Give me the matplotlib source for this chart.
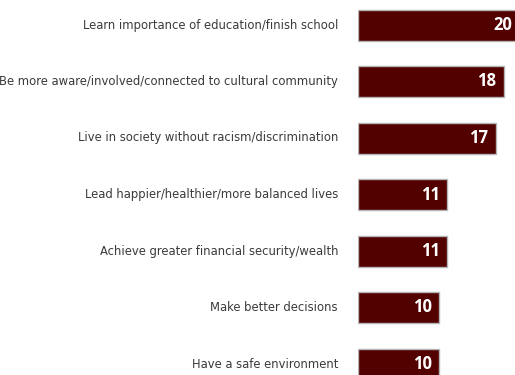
import matplotlib.pyplot as plt
from matplotlib import font_manager

labels = ["Learn importance of education/finish school",
          "Be more aware/involved/connected to cultural community",
          "Live in society without racism/discrimination",
          "Lead happier/healthier/more balanced lives",
          "Achieve greater financial security/wealth",
          "Make better decisions",
          "Have a safe environment"]
values = [20, 18, 17, 11, 11, 10, 10]

# narrow face for the category names
narrow = font_manager.FontProperties(family="DejaVu Sans", stretch="condensed", size=9.3)

W, H = 515, 375
fig = plt.figure(figsize=(W / 100, H / 100), dpi=100)
x0 = 358
ax = fig.add_axes([x0 / W, 0, 1 - x0 / W, 1])
px_per_unit = 8.1
pitch = 56.5
top_c = 25
ax.set_xlim(0, (W - x0) / px_per_unit)
ax.set_ylim((H - top_c) / pitch, -top_c / pitch)
ax.axis("off")

ypos = list(range(len(values)))
ax.barh(ypos, values, height=31 / pitch, color="#520000",
        edgecolor="#b4b4b4", linewidth=1.0)

for y, v in zip(ypos, values):
    ax.text(v - 0.9, y, str(v), ha="right", va="center", color="white",
            fontsize=12, fontweight="bold", family=["Open Sans", "DejaVu Sans"])

for y, lab in zip(ypos, labels):
    ax.annotate(lab, xy=(0, y), xycoords="data", xytext=(-20, 0),
                textcoords="offset pixels", ha="right", va="center",
                color="#3a3a3a", fontproperties=narrow,
                annotation_clip=False)

fig.savefig("out.png", dpi=100)
